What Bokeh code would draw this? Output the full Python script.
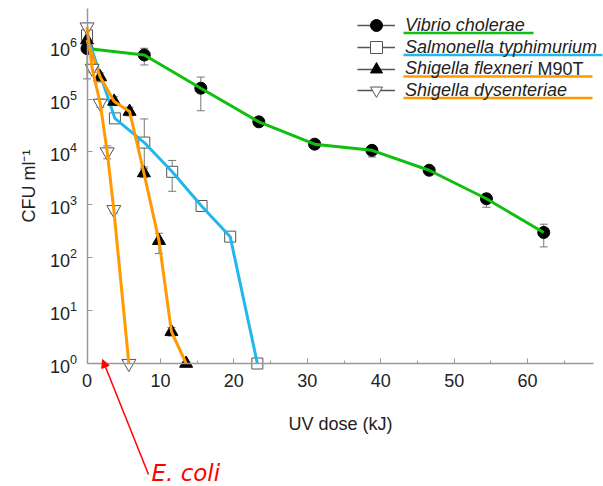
from bokeh.plotting import figure
from bokeh.models import (Range1d, LogTickFormatter, FixedTicker, SingleIntervalTicker,
                          Whisker, TeeHead, Legend, LegendItem, Arrow, NormalHead, Label,
                          ColumnDataSource)
from bokeh.embed import file_html
from bokeh.resources import INLINE

# ---------------- data ----------------
vc_x = [0, 7.8, 15.5, 23.4, 31.0, 38.8, 46.6, 54.4, 62.2]
vc_y = [9.0e5, 6.8e5, 1.6e5, 3.7e4, 1.4e4, 1.07e4, 4.5e3, 1.3e3, 3.0e2]
vc_lo = [2.4e5, 4.4e5, 6.0e4, 3.0e4, 1.2e4, 8.0e3, 3.8e3, 9.0e2, 1.6e2]
vc_hi = [1.3e6, 9.1e5, 2.6e5, 4.4e4, 1.6e4, 1.2e4, 5.2e3, 1.6e3, 4.3e2]

st_x = [0, 3.8, 7.8, 11.6, 15.6, 19.5, 23.2]
st_y = [1.6e6, 4.3e4, 1.5e4, 4.2e3, 9.5e2, 2.5e2, 1.0]
st_lo = [1.2e6, 3.6e4, 5.2e3, 1.8e3, 8.2e2, 2.1e2, 1.0]
st_hi = [2.1e6, 5.2e4, 4.2e4, 6.9e3, 1.1e3, 3.0e2, 1.0]

sf_x = [0, 1.8, 3.7, 5.8, 7.75, 9.8, 11.5, 13.5]
sf_y = [1.3e6, 2.6e5, 9.0e4, 5.8e4, 4.0e3, 2.1e2, 4.0, 1.0]
sf_lo = [1.0e6, 2.1e5, 7.5e4, 4.8e4, 3.3e3, 1.2e2, 3.3, 1.0]
sf_hi = [1.6e6, 3.1e5, 1.1e5, 7.0e4, 4.8e3, 2.9e2, 4.8, 1.0]

sd_x = [0, 0.7, 1.8, 2.75, 3.65, 5.7]
sd_y = [2.3e6, 3.8e5, 8.3e4, 1.0e4, 8.1e2, 1.0]
sd_lo = [2.0e6, 3.2e5, 7.0e4, 7.4e3, 7.0e2, 1.0]
sd_hi = [2.7e6, 4.5e5, 1.0e5, 1.3e4, 9.5e2, 1.0]

series_names = ["Vibrio cholerae", "Salmonella typhimurium", "Shigella flexneri", "Shigella dysenteriae"]
strain_suffix = "M90T"
y_ticks = [1, 10, 100, 1000, 1e4, 1e5, 1e6]
x_label = "UV dose (kJ)"
y_label = "CFU ml\u207b\u00b9"
note_text = "E. coli"

# ---------------- styling ----------------
GREEN = "#10c010"
CYAN = "#20b8ec"
ORANGE = "#ff9a00"
DARK = "#555555"
AXIS = "#999999"
FONT = "Liberation Sans"
W, H = 603, 486

# pixel -> data helpers for decorations (ranges, legend underlines, note)
X0, XS = 86.5, 7.343
Y0, YS = 363.0, 52.9
def dx(px):
    return (px - X0) / XS
def dy(py):
    return 10 ** ((Y0 - py) / YS)

p = figure(width=W, height=H, y_axis_type="log",
           x_range=Range1d(dx(0), dx(W)), y_range=Range1d(dy(H), dy(0)),
           output_backend="svg", toolbar_location=None, min_border=0)
p.outline_line_color = None
p.grid.grid_line_color = None

# axes (placed at x=0 and y=1 inside the full-canvas frame)
p.xaxis.fixed_location = 1
p.yaxis.fixed_location = 0
p.xaxis.bounds = (0, 69)
p.yaxis.bounds = (1, dy(8))
p.xaxis.ticker = SingleIntervalTicker(interval=10, num_minor_ticks=2)
p.yaxis.ticker = FixedTicker(ticks=y_ticks, minor_ticks=[])
p.yaxis.formatter = LogTickFormatter(min_exponent=0)
for ax in (p.xaxis[0], p.yaxis[0]):
    ax.axis_line_color = AXIS
    ax.axis_line_width = 1.5
    ax.major_tick_line_color = AXIS
    ax.minor_tick_line_color = AXIS
    ax.major_tick_in = 5
    ax.major_tick_out = 0
    ax.minor_tick_in = 3
    ax.minor_tick_out = 0
    ax.major_label_text_font = FONT
    ax.major_label_text_font_size = "18px"
    ax.major_label_text_color = "#222222"
    ax.axis_label_text_font = FONT
    ax.axis_label_text_font_size = "18px"
    ax.axis_label_text_font_style = "normal"
    ax.axis_label_text_color = "#222222"
p.xaxis.axis_label = x_label
p.yaxis.axis_label = y_label
p.xaxis.major_label_standoff = 10
p.yaxis.major_label_standoff = 10
p.xaxis.axis_label_standoff = 24
p.yaxis.axis_label_standoff = 8

specs = [
    (vc_x, vc_y, vc_lo, vc_hi, "circle", "black", GREEN, 12),
    (st_x, st_y, st_lo, st_hi, "square", "white", CYAN, 11),
    (sf_x, sf_y, sf_lo, sf_hi, "triangle", "black", ORANGE, 13),
    (sd_x, sd_y, sd_lo, sd_hi, "inverted_triangle", "white", ORANGE, 14),
]

# legend rows: centre y in pixels and underline right end
rows = [(25, 533, GREEN), (47, 602, CYAN), (68.5, 592, ORANGE), (90, 592, ORANGE)]

for name, (xs, ys, lo, hi, marker, fill, col, size), (cy, ux, ucol) in zip(series_names, specs, rows):
    src = ColumnDataSource(dict(x=xs, y=ys, lo=lo, hi=hi))
    w = Whisker(source=src, base="x", lower="lo", upper="hi", dimension="height",
                line_color="#777777", line_width=1, level="underlay",
                upper_head=TeeHead(size=8, line_color="#777777", line_width=1),
                lower_head=TeeHead(size=8, line_color="#777777", line_width=1))
    p.add_layout(w)
    gl = p.line("x", "y", source=src, line_color=DARK, line_width=1.3)
    sc = p.scatter("x", "y", source=src, marker=marker, size=size,
                   fill_color=fill, line_color="black" if fill == "black" else "#555555",
                   line_width=1)
    p.line("x", "y", source=src, line_color=col, line_width=3)
    lg = Legend(items=[LegendItem(label=name, renderers=[gl, sc])],
                location=(357, H - (cy + 15)), border_line_color=None,
                background_fill_alpha=0, padding=0, margin=0, spacing=0,
                glyph_width=38, glyph_height=30, label_height=30, label_standoff=10,
                label_text_font=FONT, label_text_font_size="18px",
                label_text_font_style="italic", label_text_color="#222222")
    p.add_layout(lg)
    p.add_layout(Arrow(end=None, x_start=dx(403), y_start=dy(cy + 7.5), x_end=dx(ux),
                       y_end=dy(cy + 7.5), line_color=ucol, line_width=2.5))

# strain suffix after "Shigella flexneri"
p.add_layout(Label(x=dx(537), y=dy(68.5), text=strain_suffix, text_font=FONT,
                   text_font_size="18px", text_color="#222222", text_baseline="middle"))

# E. coli note
p.add_layout(Arrow(end=NormalHead(size=8, fill_color="red", line_color="red"),
                   x_start=dx(148), y_start=dy(474), x_end=dx(102), y_end=dy(359),
                   line_color="red", line_width=1.5))
p.add_layout(Label(x=dx(151), y=dy(472), text=note_text, text_font="DejaVu Sans",
                   text_font_size="23px", text_font_style="italic", text_color="red",
                   text_baseline="alphabetic"))

open("out.html", "w").write(file_html(p, INLINE))
